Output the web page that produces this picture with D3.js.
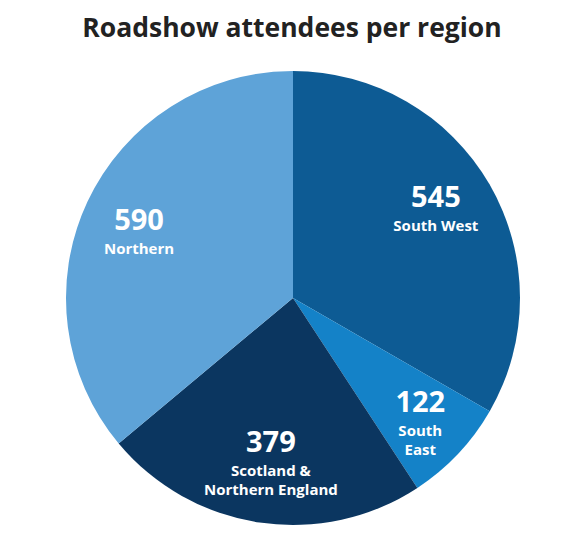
<!DOCTYPE html>
<html><head><meta charset="utf-8">
<script src="https://cdn.jsdelivr.net/npm/d3@7"></script>
<style>body{margin:0;background:#fff;font-family:"Open Sans",sans-serif}</style>
</head><body>
<script>
var regions = ["South West", "South East", "Scotland & Northern England", "Northern"];
var labelLines = [["South West"], ["South", "East"], ["Scotland &", "Northern England"], ["Northern"]];
var attendees = [545, 122, 379, 590];
var colors = ["#0d5b94", "#1482c8", "#0b3660", "#5ea3d8"];

var w = 584, h = 550, cx = 293, cy = 298, r = 227;
var svg = d3.select("body").append("svg").attr("width", w).attr("height", h);

svg.append("text").attr("x", w / 2).attr("y", 37).attr("text-anchor", "middle")
  .attr("font-size", 26.5).attr("font-weight", "bold").attr("fill", "#222")
  .text("Roadshow attendees per region");

var pie = d3.pie().sort(null).value(d => d)(attendees);
var arc = d3.arc().innerRadius(0).outerRadius(r);
var g = svg.append("g").attr("transform", "translate(" + cx + "," + cy + ")");

g.selectAll("path").data(pie).enter().append("path")
  .attr("d", arc).attr("fill", (d, i) => colors[i]);

var labelR = [165, 175, 150, 170];
var labelDy = [0, 2, 14, 12];
var lab = g.selectAll("g.lab").data(pie).enter().append("g")
  .attr("transform", (d, i) => {
    var c = d3.arc().innerRadius(labelR[i]).outerRadius(labelR[i]).centroid(d);
    return "translate(" + c[0] + "," + (c[1] + labelDy[i]) + ")";
  })
  .attr("fill", "#fff").attr("text-anchor", "middle").attr("font-weight", "bold");
lab.append("text").attr("y", -8).attr("font-size", 29).text(d => d.data);
lab.each(function (d, i) {
  d3.select(this).selectAll("text.n").data(labelLines[i]).enter().append("text")
    .attr("y", (t, j) => 16 + j * 19).attr("font-size", 15).text(t => t);
});
</script>
</body></html>
